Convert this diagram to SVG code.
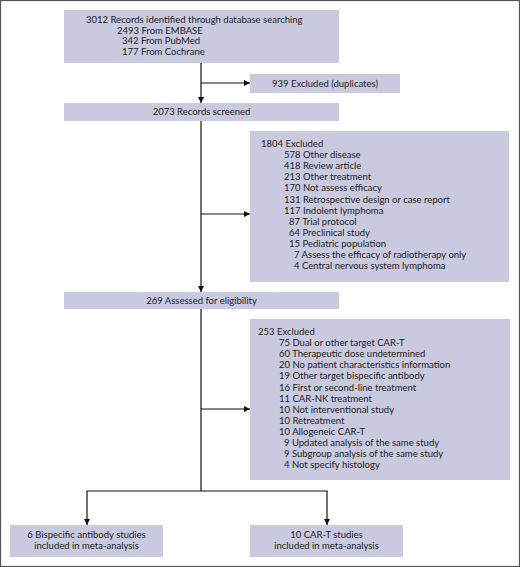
<svg xmlns="http://www.w3.org/2000/svg" width="520" height="567" viewBox="0 0 520 567">
<defs>
<marker id="ah" viewBox="0 0 10 10" refX="10" refY="5" markerWidth="6" markerHeight="6" markerUnits="userSpaceOnUse" orient="auto">
<path d="M0,0 L10,5 L0,10 Z" fill="#111"/>
</marker>
<style>
.box{fill:#c9cadf;}
text{font-family:Lato,"Open Sans",sans-serif;font-size:9.5px;fill:#222;}
.c{text-anchor:middle;}
.ln{fill:none;stroke:#111;stroke-width:1.2;}
</style>
</defs>
<rect x="0" y="0" width="520" height="567" fill="#fff"/>
<rect x="0.5" y="0.5" width="519" height="566" fill="none" stroke="#555" stroke-width="1.2"/>
<g id="connectors">
<line class="ln" x1="201" y1="63" x2="201" y2="103" marker-end="url(#ah)"/>
<line class="ln" x1="201" y1="83" x2="250" y2="83" marker-end="url(#ah)"/>
<line class="ln" x1="201" y1="121" x2="201" y2="292" marker-end="url(#ah)"/>
<line class="ln" x1="201" y1="214" x2="250" y2="214" marker-end="url(#ah)"/>
<line class="ln" x1="201" y1="309" x2="201" y2="491"/>
<line class="ln" x1="201" y1="409" x2="250" y2="409" marker-end="url(#ah)"/>
<line class="ln" x1="86.4" y1="491" x2="327.6" y2="491"/>
<line class="ln" x1="87" y1="491" x2="87" y2="525" marker-end="url(#ah)"/>
<line class="ln" x1="327" y1="491" x2="327" y2="525" marker-end="url(#ah)"/>
</g>
<g id="n-identified">
<rect class="box" x="64" y="10" width="275" height="53"/>
<text x="86" y="23">3012 Records identified through database searching</text>
<text x="117" y="33.5">2493 From EMBASE</text>
<text x="122" y="44">342 From PubMed</text>
<text x="122" y="54.5">177 From Cochrane</text>
</g>
<g id="n-duplicates">
<rect class="box" x="250" y="74" width="150" height="19"/>
<text class="c" x="325" y="86.5">939 Excluded (duplicates)</text>
</g>
<g id="n-screened">
<rect class="box" x="64" y="103" width="275" height="18"/>
<text class="c" x="201.5" y="115">2073 Records screened</text>
</g>
<g id="n-excluded1">
<rect class="box" x="250" y="131" width="259" height="151"/>
<text x="261" y="147">1804 Excluded</text>
<text x="284" y="158.1">578 Other disease</text>
<text x="284" y="169.2">418 Review article</text>
<text x="284" y="180.3">213 Other treatment</text>
<text x="284" y="191.4">170 Not assess efficacy</text>
<text x="284" y="202.5">131 Retrospective design or case report</text>
<text x="284" y="213.6">117 Indolent lymphoma</text>
<text x="289" y="224.7">87 Trial protocol</text>
<text x="289" y="235.8">64 Preclinical study</text>
<text x="289" y="246.9">15 Pediatric population</text>
<text x="294" y="258">7 Assess the efficacy of radiotherapy only</text>
<text x="294" y="269.1">4 Central nervous system lymphoma</text>
</g>
<g id="n-eligibility">
<rect class="box" x="64" y="292" width="275" height="17"/>
<text class="c" x="201.5" y="303.5">269 Assessed for eligibility</text>
</g>
<g id="n-excluded2">
<rect class="box" x="250" y="319" width="260" height="161"/>
<text x="258" y="335">253 Excluded</text>
<text x="279" y="346.1">75 Dual or other target CAR-T</text>
<text x="279" y="357.2">60 Therapeutic dose undetermined</text>
<text x="279" y="368.3">20 No patient characteristics information</text>
<text x="279" y="379.4">19 Other target bispecific antibody</text>
<text x="279" y="390.5">16 First or second-line treatment</text>
<text x="279" y="401.6">11 CAR-NK treatment</text>
<text x="279" y="412.7">10 Not interventional study</text>
<text x="279" y="423.8">10 Retreatment</text>
<text x="279" y="434.9">10 Allogeneic CAR-T</text>
<text x="284" y="446">9 Updated analysis of the same study</text>
<text x="284" y="457.1">9 Subgroup analysis of the same study</text>
<text x="284" y="468.2">4 Not specify histology</text>
</g>
<g id="n-bispecific">
<rect class="box" x="10" y="525" width="153" height="32"/>
<text class="c" x="86.5" y="538">6 Bispecific antibody studies</text>
<text class="c" x="86.5" y="549">included in meta-analysis</text>
</g>
<g id="n-cart">
<rect class="box" x="250" y="525" width="153" height="32"/>
<text class="c" x="326.5" y="538">10 CAR-T studies</text>
<text class="c" x="326.5" y="549">included in meta-analysis</text>
</g>
</svg>
